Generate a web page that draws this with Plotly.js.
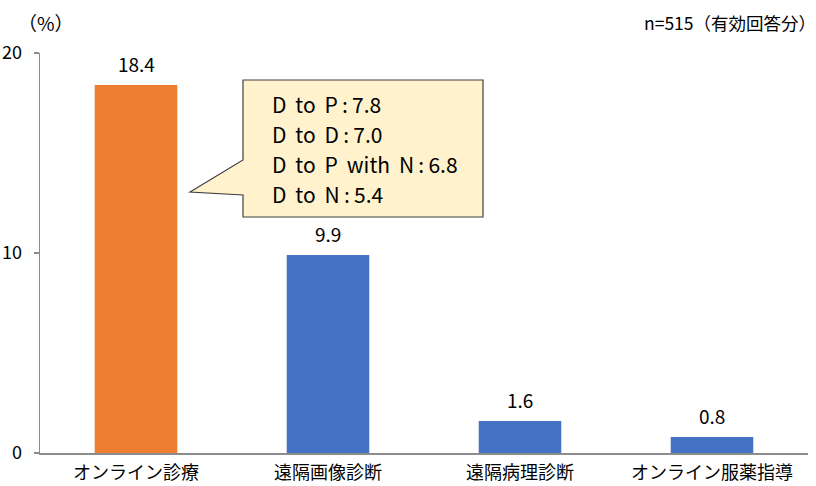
<!DOCTYPE html>
<html>
<head>
<meta charset="utf-8">
<script src="https://cdn.plot.ly/plotly-3.0.1.min.js"></script>
<style>
  html, body { margin: 0; padding: 0; background: #ffffff; }
  #chart { width: 816px; height: 486px; }
</style>
</head>
<body>
<div id="chart"></div>
<script>
// Usage rates of telemedicine services (%)
const categories = ['オンライン診療', '遠隔画像診断', '遠隔病理診断', 'オンライン服薬指導'];
const values = [18.4, 9.9, 1.6, 0.8];
const barColors = ['#ED7D31', '#4472C4', '#4472C4', '#4472C4'];

// Breakdown of online consultation shown in the callout
const breakdownLabels = ['D to P', 'D to D', 'D to P with N', 'D to N'];
const breakdownValues = [7.8, 7.0, 6.8, 5.4];

const yTicks = [0, 10, 20];

const FONT = '"Noto Sans CJK JP", "Noto Sans", sans-serif';
const W = 816, H = 486;
const M = { l: 40, r: 8, t: 53, b: 33 };
const PW = W - M.l - M.r, PH = H - M.t - M.b;

// pixel position -> paper coordinates
const px = x => (x - M.l) / PW;
const py = y => (H - M.b - y) / PH;

const trace = {
  type: 'bar',
  x: categories,
  y: values,
  marker: { color: barColors, line: { width: 0 } },
  width: 0.43,
  hoverinfo: 'skip'
};

// value labels above each bar
const valueNotes = categories.map((c, i) => ({
  x: c, y: values[i], xref: 'x', yref: 'y',
  text: values[i].toFixed(1),
  showarrow: false, yanchor: 'bottom', yshift: 6,
  font: { family: FONT, size: 19, color: '#000' }
}));

// callout text lines
const calloutTop = 104, calloutStep = 30;
const sep = '\u2009:\u2009';
const calloutNotes = breakdownLabels.map((lab, i) => ({
  x: px(270), y: py(calloutTop + i * calloutStep), xref: 'paper', yref: 'paper',
  xanchor: 'left', yanchor: 'middle',
  text: lab.replace(/ /g, '\u00a0\u2009') + sep + breakdownValues[i].toFixed(1),
  showarrow: false,
  font: { family: FONT, size: 21, color: '#000' }
}));

const calloutPath = [
  [243, 80], [483, 80], [483, 217], [243, 217], [243, 195], [190, 192], [243, 160]
].map((p, i) => (i ? 'L ' : 'M ') + px(p[0]) + ',' + py(p[1])).join(' ') + ' Z';

const layout = {
  width: W, height: H,
  margin: M,
  paper_bgcolor: '#ffffff',
  plot_bgcolor: '#ffffff',
  showlegend: false,
  font: { family: FONT, size: 16, color: '#000' },
  xaxis: {
    type: 'category',
    showline: true, linecolor: '#8c8c8c', linewidth: 1.5,
    ticks: '', showgrid: false, zeroline: false,
    tickfont: { family: FONT, size: 18, color: '#000' },
    ticklabelstandoff: 3,
    fixedrange: true
  },
  yaxis: {
    range: [0, 20],
    tickvals: yTicks,
    showline: true, linecolor: '#8c8c8c', linewidth: 1.5,
    ticks: 'outside', ticklen: 5, tickcolor: '#8c8c8c', tickwidth: 1.5,
    showgrid: false, zeroline: false,
    tickfont: { family: FONT, size: 18, color: '#000' },
    ticklabelstandoff: 8,
    fixedrange: true
  },
  shapes: [{
    type: 'path', xref: 'paper', yref: 'paper',
    path: calloutPath,
    fillcolor: '#FFF2CC',
    line: { color: '#404040', width: 1.2 },
    layer: 'above'
  }],
  annotations: [
    ...valueNotes,
    ...calloutNotes,
    {
      x: px(16), y: py(22), xref: 'paper', yref: 'paper',
      xanchor: 'left', yanchor: 'middle', showarrow: false,
      text: '（%）', font: { family: FONT, size: 19, color: '#000' }
    },
    {
      x: px(818), y: py(22), xref: 'paper', yref: 'paper',
      xanchor: 'right', yanchor: 'middle', showarrow: false,
      text: 'n=515（有効回答分）', font: { family: FONT, size: 17.5, color: '#000' }
    }
  ]
};

Plotly.newPlot('chart', [trace], layout, { displayModeBar: false, staticPlot: true });
</script>
</body>
</html>
